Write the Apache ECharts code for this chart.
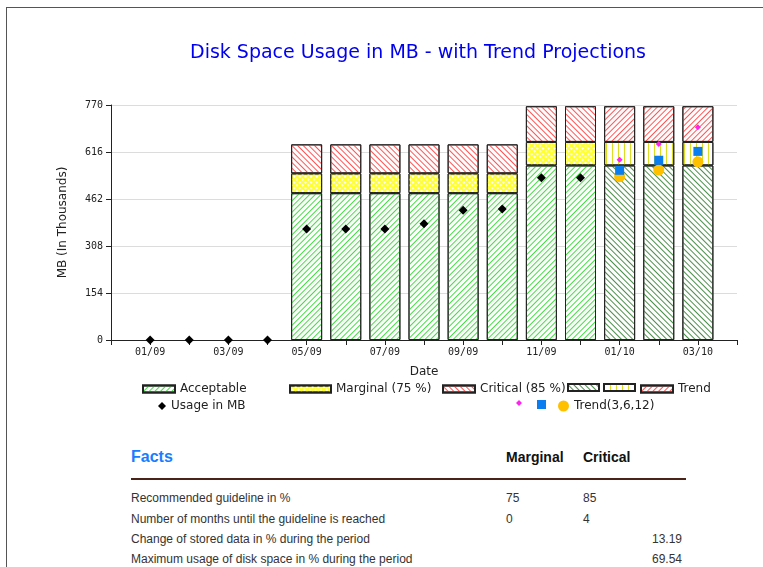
<!DOCTYPE html>
<html>
<head>
<meta charset="utf-8">
<title>Disk Space Usage</title>
<script src="https://cdn.jsdelivr.net/npm/echarts@6/dist/echarts.min.js"></script>
<style>
  body { margin: 0; background: #fff; width: 763px; height: 567px; overflow: hidden; position: relative; font-family: 'Liberation Sans', Arial, sans-serif; }
  #frame { position: absolute; left: 6px; top: 7px; width: 800px; height: 600px; border: 1px solid #555; box-sizing: border-box; }
  #chart { position: absolute; left: 0; top: 0; width: 763px; height: 430px; }
  .t { position: absolute; white-space: nowrap; font-size: 12px; color: #333; line-height: 14px; }
  .facts { font-size: 16px; font-weight: bold; color: #1a7cff; line-height: 18px; }
  .head { font-size: 14px; font-weight: bold; color: #111; line-height: 16px; }
  #rule { position: absolute; left: 131px; top: 478px; width: 555px; height: 2px; background: #4a2418; }
</style>
</head>
<body>
<div id="frame"></div>
<div id="chart"></div>

<div class="t facts" style="left:131px; top:448px;">Facts</div>
<div class="t head" style="left:506px; top:449px;">Marginal</div>
<div class="t head" style="left:583px; top:449px;">Critical</div>
<div id="rule"></div>
<div class="t" style="left:131px; top:491px;">Recommended guideline in %</div>
<div class="t" style="left:506px; top:491px;">75</div>
<div class="t" style="left:583px; top:491px;">85</div>
<div class="t" style="left:131px; top:512px;">Number of months until the guideline is reached</div>
<div class="t" style="left:506px; top:512px;">0</div>
<div class="t" style="left:583px; top:512px;">4</div>
<div class="t" style="left:131px; top:532px;">Change of stored data in % during the period</div>
<div class="t" style="right:81px; top:532px;">13.19</div>
<div class="t" style="left:131px; top:552px;">Maximum usage of disk space in % during the period</div>
<div class="t" style="right:81px; top:552px;">69.54</div>

<script>
// months on the x axis (first and last have no data)
const months = ['12/08', '01/09', '02/09', '03/09', '04/09', '05/09', '06/09', '07/09', '08/09',
  '09/09', '10/09', '11/09', '12/09', '01/10', '02/10', '03/10', '04/10'];

// capacity bands in MB (thousands)
const acceptable = [null, null, null, null, null, 481, 481, 481, 481, 481, 481, 572, 572, null, null, null, null];
const marginal = [null, null, null, null, null, 65, 65, 65, 65, 65, 65, 77, 77, null, null, null, null];
const critical = [null, null, null, null, null, 95, 95, 95, 95, 95, 95, 117, 117, null, null, null, null];

// projected capacity bands
const trendAcceptable = [null, null, null, null, null, null, null, null, null, null, null, null, null, 572, 572, 572, null];
const trendMarginal = [null, null, null, null, null, null, null, null, null, null, null, null, null, 77, 77, 77, null];
const trendCritical = [null, null, null, null, null, null, null, null, null, null, null, null, null, 117, 117, 117, null];

// actual usage
const usage = [null, 0, 0, 0, 0, 364, 364, 364, 381, 425, 429, 532, 532, null, null, null, null];

// usage projections over 3, 6 and 12 months
const trend3 = [null, null, null, null, null, null, null, null, null, null, null, null, null, 591, 642, 697, null];
const trend6 = [null, null, null, null, null, null, null, null, null, null, null, null, null, 556, 589, 618, null];
const trend12 = [null, null, null, null, null, null, null, null, null, null, null, null, null, 535, 557, 584, null];

const yTicks = { min: 0, max: 770, interval: 154 };

const hatch = (color, rotation) => ({
  symbol: 'rect', symbolSize: 1, color: color,
  dashArrayX: [1, 0], dashArrayY: [1, 3], rotation: rotation
});

// +PI/4 draws "\" lines, -PI/4 draws "/"
const decals = {
  acceptable: hatch('#44dd44', -Math.PI / 4),
  marginal: { symbol: 'rect', symbolSize: 1, color: '#ffffff', dashArrayX: [2, 2], dashArrayY: [2, 2], rotation: Math.PI / 4 },
  critical: hatch('#ff5555', Math.PI / 4),
  trendAcceptable: hatch('#4c8f4c', Math.PI / 4),
  trendMarginal: { symbol: 'rect', symbolSize: 1, color: '#dddd22', dashArrayX: [1, 5], dashArrayY: [1, 0], rotation: 0 },
  trendCritical: hatch('#ff5555', -Math.PI / 4)
};

function barSeries(name, data, fill, decal) {
  return {
    name: name,
    type: 'bar',
    stack: 'cap',
    barWidth: 31,
    data: data,
    itemStyle: { color: fill, borderColor: '#222', borderWidth: 1, decal: decal }
  };
}

function dots(name, data, symbol, size, color, z) {
  return {
    name: name,
    type: 'scatter',
    symbol: symbol,
    symbolSize: size,
    data: data,
    z: z,
    itemStyle: { color: color, opacity: 1 }
  };
}

const legendText = { fontFamily: 'DejaVu Sans', fontSize: 12, color: '#222' };

function legendItem(name, left, top, w, h, label) {
  return {
    data: [name],
    left: left,
    top: top,
    padding: 0,
    itemWidth: w,
    itemHeight: h,
    icon: 'rect',
    selectedMode: false,
    textStyle: legendText,
    formatter: () => label
  };
}

const chart = echarts.init(document.getElementById('chart'));

chart.setOption({
  animation: false,
  title: {
    text: 'Disk Space Usage in MB - with Trend Projections',
    left: 413,
    top: 39,
    textAlign: 'center',
    textStyle: { fontFamily: 'DejaVu Sans', fontSize: 19, fontWeight: 'normal', color: '#0000f0' }
  },
  legend: [
    legendItem('Acceptable', 142, 383, 32, 7, 'Acceptable'),
    legendItem('Marginal (75 %)', 289, 383, 41, 7, 'Marginal (75 %)'),
    legendItem('Critical (85 %)', 442, 383, 32, 7, 'Critical (85 %)'),
    legendItem('Trend Acceptable', 567, 383, 31, 7, ''),
    legendItem('Trend Marginal', 603, 383, 31, 7, ''),
    legendItem('Trend', 640, 383, 32, 7, 'Trend'),
    Object.assign(legendItem('Usage in MB', 158, 400, 8, 8, 'Usage in MB'), { icon: 'diamond' }),
    Object.assign(legendItem('Trend(3)', 516, 400, 6, 6, ''), { icon: 'diamond' }),
    Object.assign(legendItem('Trend(6)', 537, 400, 9, 9, ''), { icon: 'rect' }),
    Object.assign(legendItem('Trend(3,6,12)', 558, 400, 11, 11, 'Trend(3,6,12)'), { icon: 'circle' })
  ],
  grid: { left: 111, right: 26, top: 105, bottom: 90 },
  xAxis: {
    type: 'category',
    data: months,
    boundaryGap: false,
    name: 'Date',
    nameLocation: 'middle',
    nameGap: 26,
    nameTextStyle: { fontFamily: 'DejaVu Sans', fontSize: 12, color: '#222' },
    axisLine: { lineStyle: { color: '#222' } },
    axisTick: { interval: 0, length: 5, lineStyle: { color: '#222' } },
    axisLabel: {
      interval: (i) => i % 2 === 1,
      fontFamily: 'DejaVu Sans Mono', fontSize: 10, color: '#222', margin: 7
    },
    splitLine: { show: false }
  },
  yAxis: {
    type: 'value',
    min: yTicks.min,
    max: yTicks.max,
    interval: yTicks.interval,
    name: 'MB (In Thousands)',
    nameLocation: 'middle',
    nameGap: 42,
    nameTextStyle: { fontFamily: 'DejaVu Sans', fontSize: 12, color: '#222' },
    axisLine: { show: true, lineStyle: { color: '#222' } },
    axisTick: { show: true, length: 5, lineStyle: { color: '#222' } },
    axisLabel: { fontFamily: 'DejaVu Sans Mono', fontSize: 10, color: '#222', margin: 8 },
    splitLine: { lineStyle: { color: '#dcdcdc' } }
  },
  series: [
    barSeries('Acceptable', acceptable, '#ffffff', decals.acceptable),
    barSeries('Marginal (75 %)', marginal, '#ffff33', decals.marginal),
    barSeries('Critical (85 %)', critical, '#ffffff', decals.critical),
    barSeries('Trend Acceptable', trendAcceptable, '#ffffff', decals.trendAcceptable),
    barSeries('Trend Marginal', trendMarginal, '#ffffff', decals.trendMarginal),
    barSeries('Trend', trendCritical, '#ffffff', decals.trendCritical),
    dots('Usage in MB', usage, 'diamond', 9, '#000000', 5),
    dots('Trend(3,6,12)', trend12, 'circle', 11, '#ffc000', 5),
    dots('Trend(6)', trend6, 'rect', 9, '#0a7df0', 6),
    dots('Trend(3)', trend3, 'diamond', 6, '#ff22ee', 7)
  ]
});
</script>
</body>
</html>
